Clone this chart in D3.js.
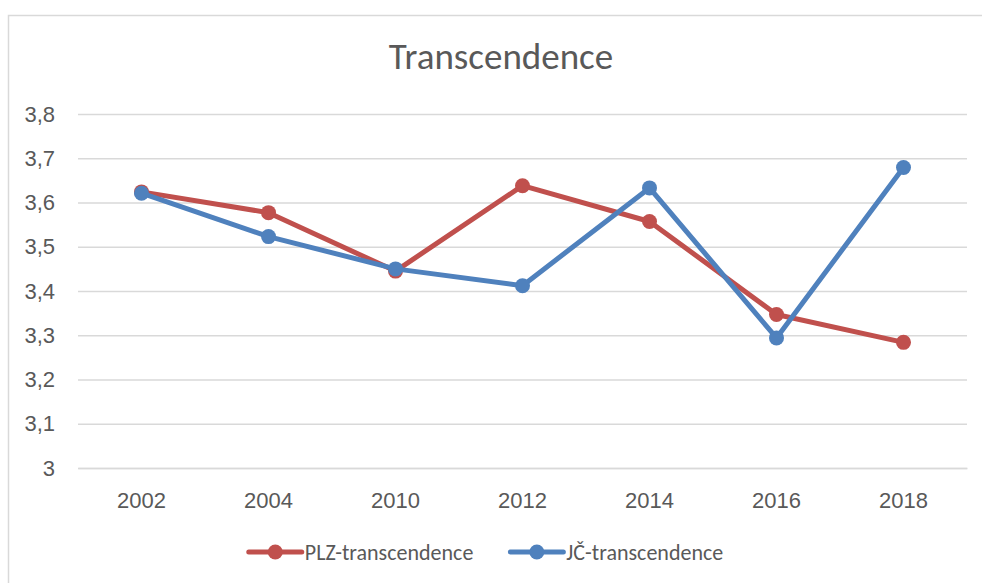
<!DOCTYPE html>
<html>
<head>
<meta charset="utf-8">
<script src="https://cdn.jsdelivr.net/npm/d3@7"></script>
<style>
  body { margin: 0; background: #fff; }
  svg { display: block; font-family: Carlito, Calibri, Lato, sans-serif; }
</style>
</head>
<body>
<div id="chart"></div>
<script>
// data
const years = ["2002", "2004", "2010", "2012", "2014", "2016", "2018"];
const plzValues = [3.624, 3.577, 3.445, 3.638, 3.557, 3.347, 3.284];
const jcValues = [3.621, 3.523, 3.450, 3.412, 3.633, 3.294, 3.679];
const yTicks = [3, 3.1, 3.2, 3.3, 3.4, 3.5, 3.6, 3.7, 3.8];
const seriesNames = ["PLZ-transcendence", "JČ-transcendence"];
const chartTitle = "Transcendence";

const width = 982;
const height = 583;
const margin = ({ top: 114, bottom: 115, left: 78, right: 15 });

const colors = ["#C0504D", "#4F81BD"];
const textColor = "#595959";
const labelSize = 22;

function lineChart() {
  const svg = d3.select("#chart").append("svg")
    .attr("width", width)
    .attr("height", height);

  // chart area border (only top and left show in the picture)
  svg.append("rect")
    .attr("x", 8.5).attr("y", 15.5)
    .attr("width", 1000).attr("height", 600)
    .attr("fill", "none")
    .attr("stroke", "#D9D9D9")
    .attr("stroke-width", 1.5);

  // title
  svg.append("text")
    .attr("x", 501)
    .attr("y", 69)
    .attr("text-anchor", "middle")
    .attr("font-size", 37)
    .attr("fill", textColor)
    .text(chartTitle);

  // scales
  const xScale = d3.scaleBand()
    .domain(years)
    .range([margin.left, width - margin.right]);

  const yScale = d3.scaleLinear()
    .domain([3, 3.8])
    .range([height - margin.bottom, margin.top]);

  // gridlines + y labels
  const yAxis = d3.axisLeft(yScale)
    .tickValues(yTicks)
    .tickSize(-(width - margin.left - margin.right))
    .tickPadding(23)
    .tickFormat(d => d3.format("")(d).replace(".", ","));

  svg.append("g")
    .attr("class", "axis")
    .attr("transform", `translate(${margin.left}, 0)`)
    .call(yAxis)
    .call(g => g.select(".domain").remove())
    .call(g => g.selectAll("line").attr("stroke", "#D9D9D9").attr("stroke-width", 1.5))
    .call(g => g.selectAll("text")
      .attr("fill", textColor)
      .attr("font-size", labelSize)
      .attr("font-family", null));

  // x labels
  const xAxis = d3.axisBottom(xScale)
    .tickSize(0)
    .tickPadding(24);

  svg.append("g")
    .attr("class", "axis")
    .attr("transform", `translate(0, ${height - margin.bottom})`)
    .call(xAxis)
    .call(g => g.select(".domain").attr("stroke", "#D9D9D9").attr("stroke-width", 1.5))
    .call(g => g.selectAll("text")
      .attr("fill", textColor)
      .attr("font-size", labelSize)
      .attr("font-family", null));

  // lines with markers, PLZ first then JČ on top
  const line = d3.line()
    .x((d, i) => xScale(years[i]) + xScale.bandwidth() / 2)
    .y(d => yScale(d));

  [plzValues, jcValues].forEach((vals, k) => {
    const g = svg.append("g").attr("class", "series");
    g.append("path")
      .attr("d", line(vals))
      .attr("fill", "none")
      .attr("stroke", colors[k])
      .attr("stroke-width", 5)
      .attr("stroke-linejoin", "round");
    g.selectAll("circle")
      .data(vals)
      .enter()
      .append("circle")
      .attr("cx", (d, i) => xScale(years[i]) + xScale.bandwidth() / 2)
      .attr("cy", d => yScale(d))
      .attr("r", 7.5)
      .attr("fill", colors[k]);
  });

  // legend
  const legend = svg.append("g").attr("class", "legend");
  const legendY = 552;
  let x = 0;
  seriesNames.forEach((name, k) => {
    const item = legend.append("g").attr("transform", `translate(${x}, ${legendY})`);
    item.append("line")
      .attr("x1", 0).attr("x2", 53)
      .attr("stroke", colors[k])
      .attr("stroke-width", 5)
      .attr("stroke-linecap", "round");
    item.append("circle")
      .attr("cx", 26.5).attr("r", 7.5)
      .attr("fill", colors[k]);
    const t = item.append("text")
      .attr("x", 56)
      .attr("dy", "0.35em")
      .attr("font-size", labelSize)
      .attr("fill", textColor)
      .text(name);
    x += 56 + t.node().getComputedTextLength() + 37;
  });
  const legendWidth = x - 37;
  legend.attr("transform", `translate(${486 - legendWidth / 2}, 0)`);

  return svg.node();
}

lineChart();
</script>
</body>
</html>
